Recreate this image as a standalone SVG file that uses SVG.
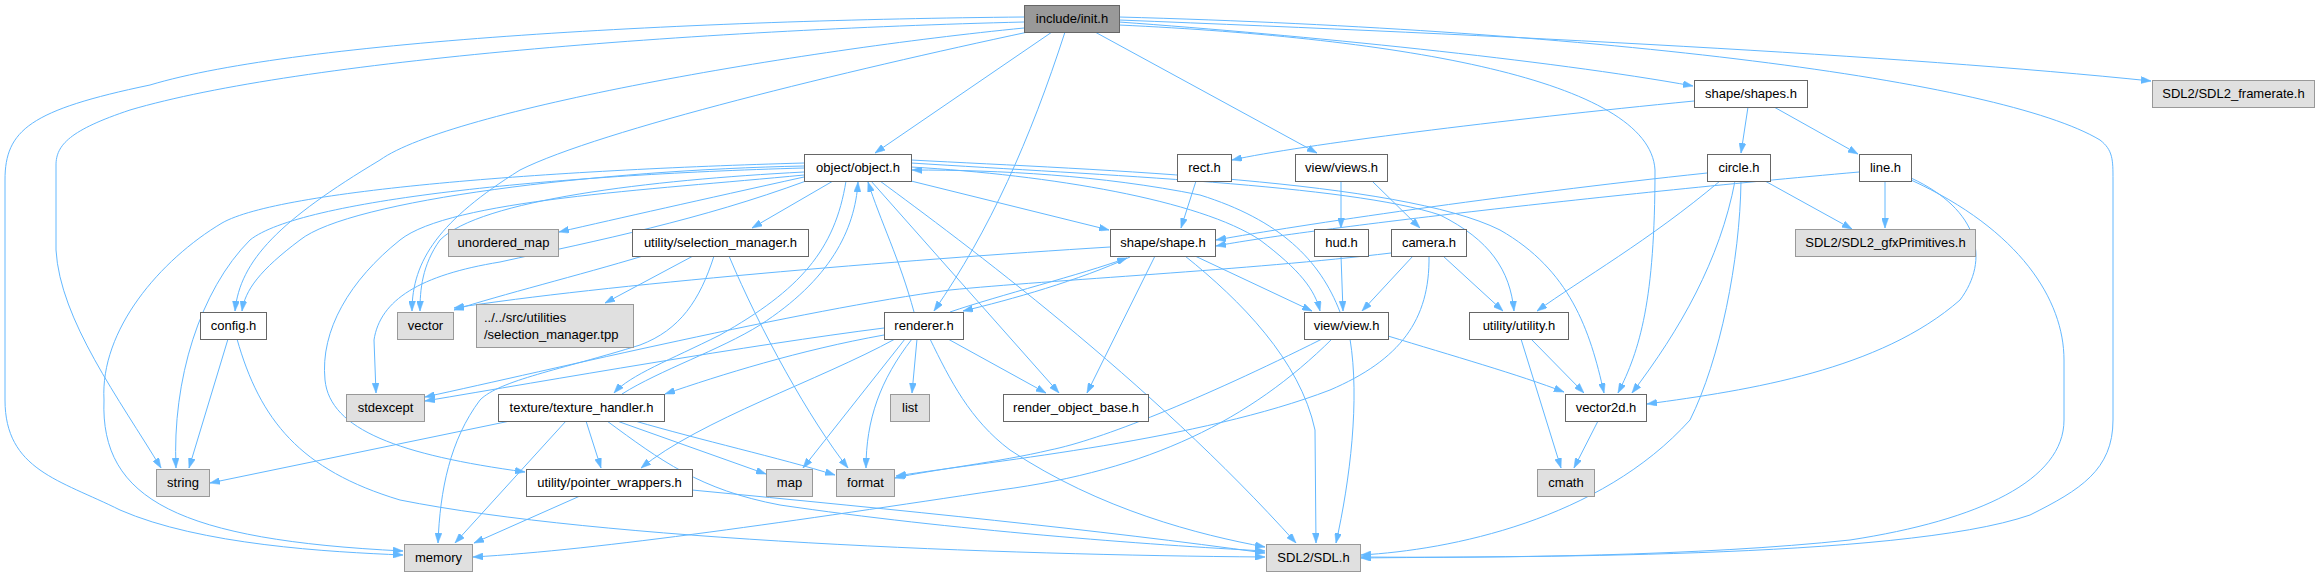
<svg xmlns="http://www.w3.org/2000/svg" width="2319" height="576" viewBox="0 0 2319 576">
<style>
.e{fill:none;stroke:#63b8ff;stroke-width:1;marker-end:url(#ah)}
.n rect{fill:#fff;stroke:#666;stroke-width:1}
.x rect{fill:#e0e0e0;stroke:#999;stroke-width:1}
.r rect{fill:#999;stroke:#666;stroke-width:1}
text{font-family:"Liberation Sans",Arial,sans-serif;font-size:13px;fill:#000;text-anchor:middle}
.l{text-anchor:start}
</style>
<defs>
<marker id="ah" viewBox="0 0 10 7" refX="10" refY="3.5" markerWidth="10" markerHeight="7" markerUnits="userSpaceOnUse" orient="auto">
<path d="M0,0 L10,3.5 L0,7 z" fill="#63b8ff" stroke="#63b8ff" stroke-width="0.5"/>
</marker>
</defs>
<rect width="2319" height="576" fill="#fff"/>
<g id="edges">
<!-- init.h -->
<path class="e" d="M1052,32 L875,153"/>
<path class="e" d="M1065,32 C1030,140 990,230 934,311"/>
<path class="e" d="M1095,32 L1317,153"/>
<path class="e" d="M1119,22 C1300,35 1550,60 1693,86"/>
<path class="e" d="M1119,20 C1500,35 1900,55 2151,81"/>
<path class="e" d="M1119,25 C1400,38 1650,80 1655,170 C1655,300 1640,350 1618,393"/>
<path class="e" d="M1119,17 C1600,30 2000,80 2100,140 C2113,150 2113,160 2113,180 L2113,420 C2113,470 2080,490 2030,515 C1900,560 1500,556 1361,558"/>
<path class="e" d="M1024,17 C700,20 300,40 150,85 C30,110 5,130 5,180 L5,400 C5,470 60,480 120,510 C200,545 330,552 403,555"/>
<path class="e" d="M1024,22 C700,30 300,60 130,110 C70,130 56,145 56,165 L56,250 C60,320 120,400 161,468"/>
<path class="e" d="M1024,28 C800,50 450,110 380,160 C280,220 240,260 235,311"/>
<path class="e" d="M1028,32 C850,70 600,130 520,170 C440,220 412,260 412,311"/>
<!-- object.h -->
<path class="e" d="M804,177 C700,200 620,218 559,232"/>
<path class="e" d="M833,181 L752,228"/>
<path class="e" d="M911,181 L1109,230"/>
<path class="e" d="M804,172 C650,180 480,200 440,240 C422,265 420,290 420,311"/>
<path class="e" d="M804,168 C550,175 300,200 250,240 C200,290 172,380 176,468"/>
<path class="e" d="M804,163 C550,170 280,190 222,223 C160,260 100,330 104,400 C100,500 180,540 403,551"/>
<path class="e" d="M804,166 C600,170 350,200 300,240 C260,270 245,290 242,311"/>
<path class="e" d="M806,181 C700,220 600,240 500,262 C420,275 380,300 374,340 L376,393"/>
<path class="e" d="M846,181 C835,250 800,290 720,335 C670,360 630,375 614,393"/>
<path class="e" d="M804,175 C650,190 450,200 400,240 C350,280 320,330 325,380 C330,430 400,455 525,472"/>
<path class="e" d="M871,181 L1059,393"/>
<path class="e" d="M880,181 C960,240 1150,380 1296,543"/>
<path class="e" d="M911,167 C1050,175 1200,200 1260,240 C1300,270 1315,290 1320,311"/>
<path class="e" d="M911,163 C1100,175 1350,185 1440,215 C1490,240 1510,270 1514,311"/>
<path class="e" d="M911,160 C1100,170 1400,180 1500,230 C1570,270 1590,330 1604,393"/>
<!-- back edges to object.h -->
<path class="e" d="M1340,312 C1320,260 1280,220 1200,195 C1100,175 1000,170 912,170"/>
<path class="e" d="M622,394 C660,370 720,350 760,325 C830,280 855,230 858,182"/>
<path class="e" d="M914,312 C900,260 880,220 868,182"/>
<!-- renderer.h -->
<path class="e" d="M950,312 C1000,295 1080,275 1127,258"/>
<path class="e" d="M917,339 L912,393"/>
<path class="e" d="M948,339 L1046,393"/>
<path class="e" d="M912,339 C880,380 866,420 866,468"/>
<path class="e" d="M905,339 L803,468"/>
<path class="e" d="M930,339 C950,380 970,420 1010,450 C1100,510 1200,535 1265,547"/>
<path class="e" d="M884,328 C750,345 550,380 425,401"/>
<path class="e" d="M884,335 C800,350 720,375 665,394"/>
<path class="e" d="M895,339 C820,380 700,420 641,468"/>
<!-- texture_handler.h -->
<path class="e" d="M510,421 L210,483"/>
<path class="e" d="M566,421 L455,543"/>
<path class="e" d="M586,421 L601,468"/>
<path class="e" d="M617,421 L766,474"/>
<path class="e" d="M635,421 C700,440 780,458 835,475"/>
<path class="e" d="M607,421 C660,460 700,490 780,505 C950,530 1150,545 1265,551"/>
<!-- pointer_wrappers.h -->
<path class="e" d="M580,496 L474,543"/>
<path class="e" d="M692,490 C900,510 1100,530 1265,553"/>
<!-- config.h -->
<path class="e" d="M228,339 L189,468"/>
<path class="e" d="M237,339 C260,420 300,470 400,500 C600,540 1000,555 1265,557"/>
<!-- selection_manager.h -->
<path class="e" d="M643,256 C580,275 500,295 454,310"/>
<path class="e" d="M693,256 L605,303"/>
<path class="e" d="M714,256 C700,300 680,330 640,345 C560,370 500,380 480,400 C450,440 440,490 438,543"/>
<path class="e" d="M729,256 C760,330 810,420 848,468"/>
<!-- shape.h -->
<path class="e" d="M1110,247 C900,260 600,285 454,308"/>
<path class="e" d="M1155,256 L1087,393"/>
<path class="e" d="M1195,256 L1312,311"/>
<path class="e" d="M1185,256 C1240,300 1300,360 1315,430 L1316,543"/>
<path class="e" d="M1130,257 C1080,280 1010,300 963,311"/>
<!-- view.h -->
<path class="e" d="M1388,336 C1450,355 1520,375 1564,392"/>
<path class="e" d="M1322,339 C1200,400 1100,440 1050,450 C1000,462 930,470 895,478"/>
<path class="e" d="M1332,339 C1250,420 1150,470 1000,490 C800,520 600,550 473,557"/>
<path class="e" d="M1350,339 C1360,400 1350,480 1336,543"/>
<!-- camera.h -->
<path class="e" d="M1413,256 L1362,311"/>
<path class="e" d="M1443,256 L1503,311"/>
<path class="e" d="M1429,256 C1430,320 1400,360 1330,390 C1200,440 1000,460 896,476"/>
<path class="e" d="M1391,253 C1250,270 1050,280 950,290 C800,310 550,370 425,397"/>
<!-- hud.h / views.h -->
<path class="e" d="M1341,256 L1343,311"/>
<path class="e" d="M1341,181 L1341,228"/>
<path class="e" d="M1372,181 L1420,228"/>
<!-- shapes.h -->
<path class="e" d="M1694,101 C1500,120 1300,145 1232,160"/>
<path class="e" d="M1748,107 L1741,153"/>
<path class="e" d="M1774,107 L1858,154"/>
<!-- rect.h -->
<path class="e" d="M1196,181 L1181,228"/>
<!-- circle.h -->
<path class="e" d="M1707,173 C1500,195 1300,225 1216,240"/>
<path class="e" d="M1765,181 L1852,229"/>
<path class="e" d="M1720,181 C1650,240 1580,280 1537,311"/>
<path class="e" d="M1735,181 C1720,260 1680,330 1632,393"/>
<path class="e" d="M1741,181 C1740,260 1720,360 1690,420 C1600,520 1450,550 1361,555"/>
<!-- line.h -->
<path class="e" d="M1859,172 C1600,195 1300,230 1216,246"/>
<path class="e" d="M1885,181 L1885,228"/>
<path class="e" d="M1911,178 C1980,210 1990,260 1960,300 C1880,370 1750,390 1647,404"/>
<path class="e" d="M1911,180 C2020,230 2064,300 2064,360 L2064,420 C2064,480 1980,520 1850,540 C1700,556 1500,558 1361,557"/>
<!-- utility.h / vector2d.h -->
<path class="e" d="M1531,339 L1584,393"/>
<path class="e" d="M1521,339 L1561,468"/>
<path class="e" d="M1598,421 L1574,468"/>
</g>
<g id="n_init" class="r"><rect x="1024.5" y="5.5" width="95" height="27"/><text x="1072" y="23">include/init.h</text></g>
<g id="n_shapes" class="n"><rect x="1694.5" y="80.5" width="113" height="27"/><text x="1751" y="98">shape/shapes.h</text></g>
<g id="n_framerate" class="x"><rect x="2152.5" y="80.5" width="162" height="27"/><text x="2233.5" y="98">SDL2/SDL2_framerate.h</text></g>
<g id="n_object" class="n"><rect x="804.5" y="154.5" width="107" height="27"/><text x="858" y="172">object/object.h</text></g>
<g id="n_rect" class="n"><rect x="1177.5" y="154.5" width="54" height="27"/><text x="1204.5" y="172">rect.h</text></g>
<g id="n_views" class="n"><rect x="1295.5" y="154.5" width="92" height="27"/><text x="1341.5" y="172">view/views.h</text></g>
<g id="n_circle" class="n"><rect x="1707.5" y="154.5" width="63" height="27"/><text x="1739" y="172">circle.h</text></g>
<g id="n_line" class="n"><rect x="1859.5" y="154.5" width="52" height="27"/><text x="1885.5" y="172">line.h</text></g>
<g id="n_unordered_map" class="x"><rect x="448.5" y="229.5" width="110" height="27"/><text x="503.5" y="247">unordered_map</text></g>
<g id="n_selection_manager" class="n"><rect x="632.5" y="229.5" width="176" height="27"/><text x="720.5" y="247">utility/selection_manager.h</text></g>
<g id="n_shape" class="n"><rect x="1110.5" y="229.5" width="105" height="27"/><text x="1163" y="247">shape/shape.h</text></g>
<g id="n_hud" class="n"><rect x="1314.5" y="229.5" width="54" height="27"/><text x="1341.5" y="247">hud.h</text></g>
<g id="n_camera" class="n"><rect x="1391.5" y="229.5" width="75" height="27"/><text x="1429" y="247">camera.h</text></g>
<g id="n_gfx" class="x"><rect x="1795.5" y="229.5" width="180" height="27"/><text x="1885.5" y="247">SDL2/SDL2_gfxPrimitives.h</text></g>
<g id="n_config" class="n"><rect x="200.5" y="312.5" width="66" height="27"/><text x="233.5" y="330">config.h</text></g>
<g id="n_vector" class="x"><rect x="397.5" y="312.5" width="56" height="27"/><text x="425.5" y="330">vector</text></g>
<g id="n_tpp" class="x"><rect x="476.5" y="304.5" width="157" height="43"/><text class="l" x="484" y="322">../../src/utilities</text><text class="l" x="484" y="339">/selection_manager.tpp</text></g>
<g id="n_renderer" class="n"><rect x="884.5" y="312.5" width="79" height="27"/><text x="924" y="330">renderer.h</text></g>
<g id="n_view" class="n"><rect x="1304.5" y="312.5" width="84" height="27"/><text x="1346.5" y="330">view/view.h</text></g>
<g id="n_utility" class="n"><rect x="1469.5" y="312.5" width="99" height="27"/><text x="1519" y="330">utility/utility.h</text></g>
<g id="n_stdexcept" class="x"><rect x="346.5" y="394.5" width="78" height="27"/><text x="385.5" y="412">stdexcept</text></g>
<g id="n_texture_handler" class="n"><rect x="498.5" y="394.5" width="166" height="27"/><text x="581.5" y="412">texture/texture_handler.h</text></g>
<g id="n_list" class="x"><rect x="890.5" y="394.5" width="39" height="27"/><text x="910" y="412">list</text></g>
<g id="n_render_object_base" class="n"><rect x="1003.5" y="394.5" width="145" height="27"/><text x="1076" y="412">render_object_base.h</text></g>
<g id="n_vector2d" class="n"><rect x="1565.5" y="394.5" width="81" height="27"/><text x="1606" y="412">vector2d.h</text></g>
<g id="n_string" class="x"><rect x="156.5" y="469.5" width="53" height="27"/><text x="183" y="487">string</text></g>
<g id="n_pointer_wrappers" class="n"><rect x="526.5" y="469.5" width="166" height="27"/><text x="609.5" y="487">utility/pointer_wrappers.h</text></g>
<g id="n_map" class="x"><rect x="766.5" y="469.5" width="46" height="27"/><text x="789.5" y="487">map</text></g>
<g id="n_format" class="x"><rect x="836.5" y="469.5" width="58" height="27"/><text x="865.5" y="487">format</text></g>
<g id="n_cmath" class="x"><rect x="1537.5" y="469.5" width="57" height="27"/><text x="1566" y="487">cmath</text></g>
<g id="n_memory" class="x"><rect x="404.5" y="544.5" width="68" height="27"/><text x="438.5" y="562">memory</text></g>
<g id="n_sdl" class="x"><rect x="1266.5" y="544.5" width="94" height="27"/><text x="1313.5" y="562">SDL2/SDL.h</text></g>
</svg>
